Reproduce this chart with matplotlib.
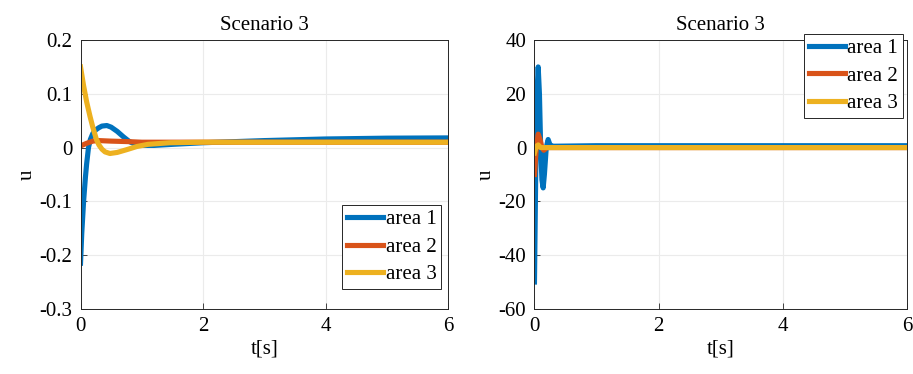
import matplotlib.pyplot as plt

plt.rcParams['font.family'] = ['Liberation Serif', 'DejaVu Serif']
plt.rcParams['font.size'] = 15

# colours (MATLAB default order)
colors = ['#0072BD', '#D95319', '#EDB120']
labels = ['area 1', 'area 2', 'area 3']

# left panel
t1_blue = [0, 0.02, 0.05, 0.08, 0.1, 0.13, 0.16, 0.2, 0.25, 0.3, 0.35, 0.43, 0.5, 0.6, 0.7, 0.8,
           0.9, 1.0, 1.2, 1.5, 2, 3, 4, 5, 6]
u1_blue = [-0.215, -0.16, -0.1, -0.055, -0.03, 0.0, 0.015, 0.026, 0.033, 0.037, 0.04, 0.041, 0.038,
           0.03, 0.02, 0.011, 0.006, 0.004, 0.004, 0.006, 0.009, 0.013, 0.016, 0.0175, 0.018]
t1_orange = [0, 0.1, 0.2, 0.3, 0.5, 0.8, 1.0, 2, 4, 6]
u1_orange = [0.003, 0.008, 0.012, 0.013, 0.012, 0.011, 0.01, 0.01, 0.01, 0.01]
t1_yellow = [0, 0.05, 0.1, 0.155, 0.2, 0.26, 0.3, 0.35, 0.4, 0.48, 0.6, 0.75, 0.92, 1.1, 1.46,
             2, 4, 6]
u1_yellow = [0.15, 0.115, 0.085, 0.058, 0.038, 0.015, 0.005, -0.003, -0.008, -0.011, -0.009,
             -0.004, 0.002, 0.006, 0.009, 0.01, 0.01, 0.01]

# right panel
t2_blue = [0, 0.02, 0.04, 0.06, 0.08, 0.1, 0.12, 0.14, 0.16, 0.19, 0.22, 0.25, 0.3, 1, 6]
u2_blue = [-50, -10, 20, 30, 20, 0, -12, -15, -10, 0, 3, 1, 0.5, 0.7, 0.7]
t2_orange = [0, 0.03, 0.06, 0.09, 0.12, 0.15, 0.2, 6]
u2_orange = [-10, 0, 5, 3, 0, -1, 0, 0]
t2_yellow = [0, 0.03, 0.06, 0.1, 6]
u2_yellow = [-2, 0.5, 1, 0, 0]

fig = plt.figure(figsize=(9.13, 3.74), dpi=100)
ax1 = fig.add_axes([0.0882, 0.174, 0.4025, 0.719])
ax2 = fig.add_axes([0.5854, 0.174, 0.408, 0.719])

def style(ax):
    ax.grid(True, color='#ebebeb', linewidth=0.8)
    ax.set_axisbelow(True)
    ax.tick_params(direction='in', length=4, width=0.6, color='#262626', labelsize=15, pad=6)
    for s in ax.spines.values():
        s.set_color('#262626')
        s.set_linewidth(0.7)
    ax.set_xlim(0, 6)
    ax.set_xticks([0, 2, 4, 6])
    ax.set_xlabel('t[s]', labelpad=2)
    ax.set_ylabel('u', labelpad=2)
    ax.set_title('Scenario 3', fontsize=15, pad=7)

lw = 3.7
ax1.plot(t1_blue, u1_blue, color=colors[0], lw=lw, label=labels[0])
ax1.plot(t1_orange, u1_orange, color=colors[1], lw=lw, label=labels[1])
ax1.plot(t1_yellow, u1_yellow, color=colors[2], lw=lw, label=labels[2])
style(ax1)
ax1.set_ylim(-0.3, 0.2)
ax1.set_yticks([-0.3, -0.2, -0.1, 0, 0.1, 0.2])
ax1.set_yticklabels(['-0.3', '-0.2', '-0.1', '0', '0.1', '0.2'])

ax2.plot(t2_blue, u2_blue, color=colors[0], lw=lw, label=labels[0])
ax2.plot(t2_orange, u2_orange, color=colors[1], lw=lw, label=labels[1])
ax2.plot(t2_yellow, u2_yellow, color=colors[2], lw=lw, label=labels[2])
style(ax2)
ax2.set_ylim(-60, 40)
ax2.set_yticks([-60, -40, -20, 0, 20, 40])
ax2.set_yticklabels(['-60', '-40', '-20', '0', '20', '40'])

leg_kw = dict(fancybox=False, framealpha=1, edgecolor='#262626', borderaxespad=0,
              handlelength=1.75, handletextpad=0.1, labelspacing=0.38, borderpad=0.22,
              fontsize=15)
l1 = ax1.legend(loc='lower right', bbox_to_anchor=(0.981, 0.074), **leg_kw)
l2 = ax2.legend(loc='upper right', bbox_to_anchor=(0.989, 1.022), **leg_kw)
for l in (l1, l2):
    l.get_frame().set_linewidth(0.7)

fig.savefig('out.png', dpi=100)
